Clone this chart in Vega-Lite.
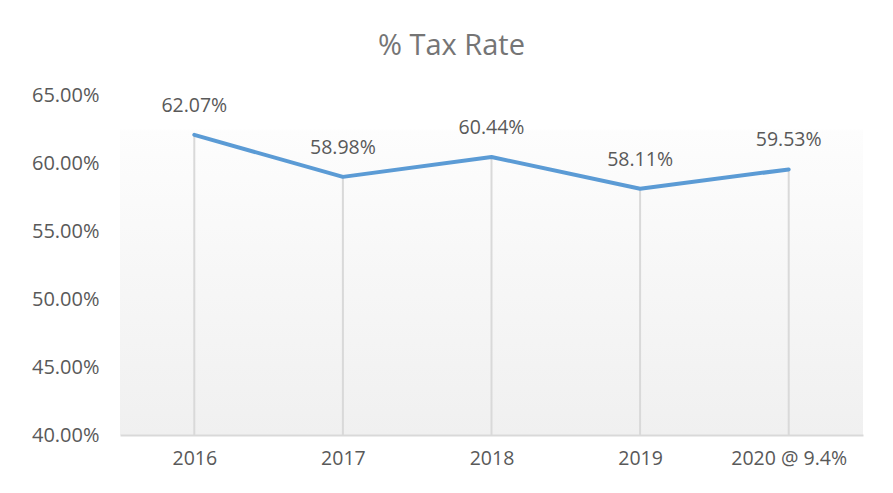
{
  "$schema": "https://vega.github.io/schema/vega-lite/v6.json",
  "width": 743,
  "height": 340,
  "autosize": {"type": "none"},
  "padding": {"left": 120, "top": 95, "right": 30, "bottom": 58},
  "background": "white",
  "title": {
    "text": "% Tax Rate",
    "font": "Open Sans",
    "fontSize": 29,
    "fontWeight": "normal",
    "color": "#757575",
    "anchor": "middle",
    "dx": -40,
    "offset": 24
  },
  "config": {
    "view": {
      "stroke": null,
      "fill": {
        "gradient": "linear",
        "x1": 0, "y1": 0, "x2": 0, "y2": 1,
        "stops": [
          {"offset": 0, "color": "#ffffff"},
          {"offset": 0.1, "color": "#ffffff"},
          {"offset": 0.105, "color": "#fdfdfd"},
          {"offset": 1, "color": "#f0f0f0"}
        ]
      }
    },
    "font": "Open Sans"
  },
  "data": {
    "values": [
      {"year": "2016", "rate": 0.6207},
      {"year": "2017", "rate": 0.5898},
      {"year": "2018", "rate": 0.6044},
      {"year": "2019", "rate": 0.5811},
      {"year": "2020 @ 9.4%", "rate": 0.5953}
    ]
  },
  "encoding": {
    "x": {
      "field": "year",
      "type": "ordinal",
      "sort": null,
      "scale": {"type": "point", "padding": 0.5},
      "axis": {
        "title": null,
        "labelAngle": 0,
        "labelFont": "Open Sans",
        "labelFontSize": 19.5,
        "labelColor": "#595959",
        "labelPadding": 14,
        "ticks": false,
        "domainColor": "#d9d9d9",
        "domainWidth": 2,
        "grid": false
      }
    },
    "y": {
      "field": "rate",
      "type": "quantitative",
      "scale": {"domain": [0.4, 0.65], "nice": false, "zero": false},
      "axis": {
        "title": null,
        "format": ".2%",
        "values": [0.4, 0.45, 0.5, 0.55, 0.6, 0.65],
        "labelFont": "Open Sans",
        "labelFontSize": 20,
        "labelColor": "#595959",
        "labelPadding": 21,
        "ticks": false,
        "domain": false,
        "grid": false
      }
    }
  },
  "layer": [
    {
      "mark": {"type": "rule", "color": "#d9d9d9", "strokeWidth": 2},
      "encoding": {"y2": {"datum": 0.4}}
    },
    {
      "mark": {"type": "line", "color": "#5b9bd5", "strokeWidth": 4, "strokeCap": "round", "strokeJoin": "round"}
    },
    {
      "mark": {"type": "text", "dy": -29, "baseline": "middle", "align": "center", "fontSize": 19.5, "color": "#595959", "font": "Open Sans"},
      "encoding": {"text": {"field": "rate", "type": "quantitative", "format": ".2%"}}
    }
  ]
}
